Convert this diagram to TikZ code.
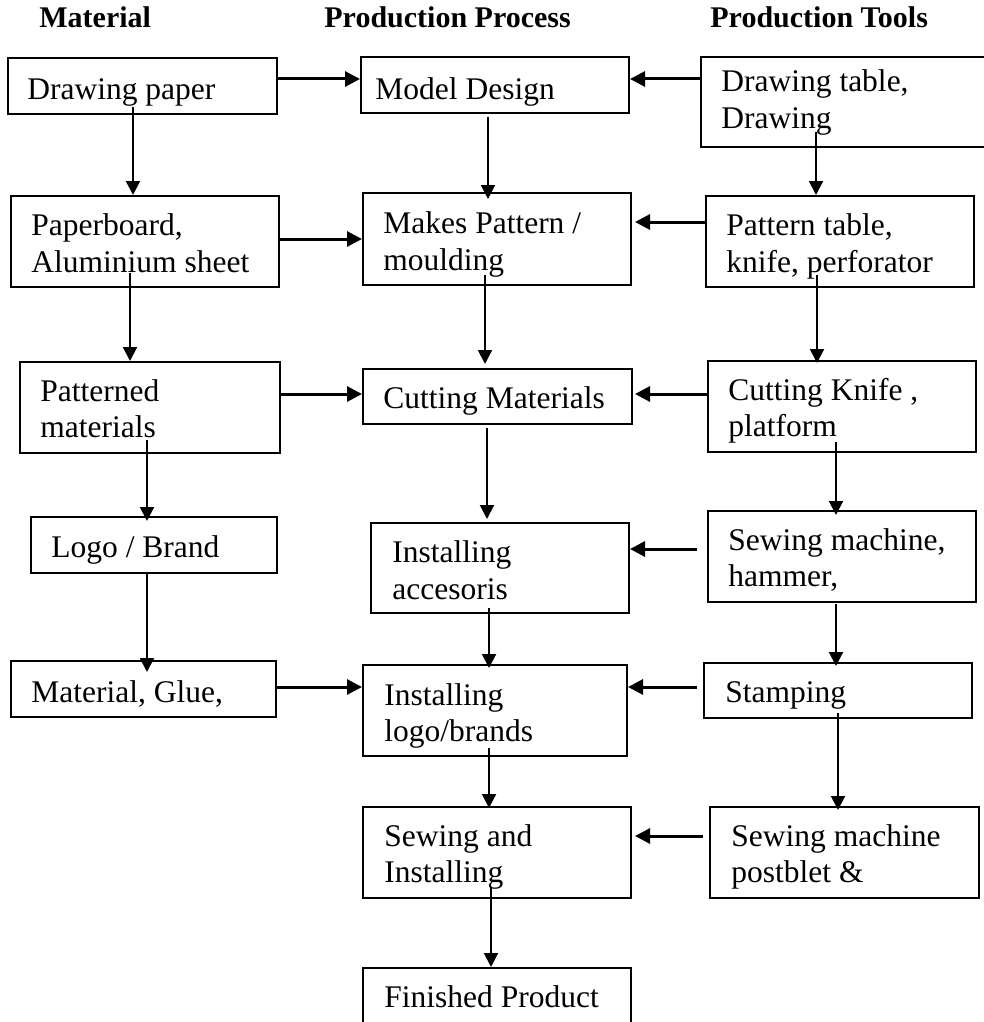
\documentclass[tikz,border=0pt]{standalone}
\usepackage{fontspec}
\setmainfont{Liberation Serif}
\usetikzlibrary{arrows.meta,fit}
\begin{document}
\begin{tikzpicture}[x=0.5pt,y=-0.5pt,
  box/.style={draw, line width=1pt, inner sep=0pt, rectangle},
  txt/.style={anchor=base west, align=left, inner sep=0pt, font=\fontsize{15.75}{18.25}\selectfont},
  hdr/.style={anchor=base west, inner sep=0pt, font=\fontsize{15}{18}\selectfont\bfseries},
  varr/.style={line width=1pt, -{Triangle[length=7pt,width=7pt]}},
  harr/.style={line width=1.5pt, -{Triangle[length=7.5pt,width=7.5pt]}}]
\useasboundingbox (0,0) rectangle (984,1022);
\begin{scope}
\clip (0,0) rectangle (984,1022);
% headers
\node[hdr] (h1) at (39,28) {Material};
\node[hdr] (h2) at (324,28) {Production Process};
\node[hdr] (h3) at (710,28) {Production Tools};
% boxes
\node[box, fit={(8,58) (277,114)}] (A1) {};
\node[box, fit={(361,57) (629,113)}] (B1) {};
\node[box, fit={(701,57) (990,147)}] (C1) {};
\node[box, fit={(11,196) (279,287)}] (A2) {};
\node[box, fit={(363,193) (631,285)}] (B2) {};
\node[box, fit={(706,196) (974,287)}] (C2) {};
\node[box, fit={(20,362) (280,453)}] (A3) {};
\node[box, fit={(363,369) (632,424)}] (B3) {};
\node[box, fit={(708,361) (976,452)}] (C3) {};
\node[box, fit={(31,517) (277,573)}] (A4) {};
\node[box, fit={(371,523) (629,613)}] (B4) {};
\node[box, fit={(708,511) (976,602)}] (C4) {};
\node[box, fit={(11,661) (276,717)}] (A5) {};
\node[box, fit={(363,665) (627,756)}] (B5) {};
\node[box, fit={(704,663) (972,718)}] (C5) {};
\node[box, fit={(363,807) (631,898)}] (B6) {};
\node[box, fit={(710,807) (979,898)}] (C6) {};
\node[box, fit={(363,968) (631,1060)}] (B7) {};
% texts (anchor = baseline of the last line)
\node[txt] (A1t) at (27,99) {Drawing paper};
\node[txt] (B1t) at (375,99) {Model Design};
\node[txt] (C1t) at (721,128.5) {Drawing table,\\Drawing};
\node[txt] (A2t) at (31,272) {Paperboard,\\Aluminium sheet};
\node[txt] (B2t) at (383,270) {Makes Pattern /\\moulding};
\node[txt] (C2t) at (726,272) {Pattern table,\\knife, perforator};
\node[txt] (A3t) at (40,437.5) {Patterned\\materials};
\node[txt] (B3t) at (383,408) {Cutting Materials};
\node[txt] (C3t) at (728,436.5) {Cutting Knife ,\\platform};
\node[txt] (A4t) at (51,557) {Logo / Brand};
\node[txt] (B4t) at (392,599) {Installing\\accesoris};
\node[txt] (C4t) at (728,586.5) {Sewing machine,\\hammer,};
\node[txt] (A5t) at (31,702) {Material, Glue,};
\node[txt] (B5t) at (384,741.5) {Installing\\logo/brands};
\node[txt] (C5t) at (725,702) {Stamping};
\node[txt] (B6t) at (384,882.5) {Sewing and\\Installing};
\node[txt] (C6t) at (731,882.5) {Sewing machine\\postblet \&};
\node[txt] (B7t) at (384,1007) {Finished Product};
% vertical arrow start points
\coordinate (vA1) at (133,107);
\coordinate (vB1) at (488,117);
\coordinate (vC1) at (816,132);
\coordinate (vA2) at (130,273);
\coordinate (vB2) at (485,275);
\coordinate (vC2) at (817,275);
\coordinate (vA3) at (147,440);
\coordinate (vB3) at (487,428);
\coordinate (vC3) at (836,442);
\coordinate (vA4) at (147,573);
\coordinate (vB4) at (489,608);
\coordinate (vC4) at (836,604);
\coordinate (vB5) at (489,748);
\coordinate (vC5) at (838,713);
\coordinate (vB6) at (491,887);
\draw[varr] (vA1) -- (vA1 |- A2.north);
\draw[varr, shorten >=-3.5pt] (vB1) -- (vB1 |- B2.north);
\draw[varr] (vC1) -- (vC1 |- C2.north);
\draw[varr] (vA2) -- (vA2 |- A3.north);
\draw[varr, shorten >=2pt] (vB2) -- (vB2 |- B3.north);
\draw[varr, shorten >=-1.5pt] (vC2) -- (vC2 |- C3.north);
\draw[varr, shorten >=-2.5pt] (vA3) -- (vA3 |- A4.north);
\draw[varr, shorten >=1.5pt] (vB3) -- (vB3 |- B4.north);
\draw[varr, shorten >=-2.5pt] (vC3) -- (vC3 |- C4.north);
\draw[varr, shorten >=-6pt] (vA4) -- (vA4 |- A5.north);
\draw[varr, shorten >=-2pt] (vB4) -- (vB4 |- B5.north);
\draw[varr, shorten >=-2pt] (vC4) -- (vC4 |- C5.north);
\draw[varr, shorten >=-1pt] (vB5) -- (vB5 |- B6.north);
\draw[varr, shorten >=-2pt] (vC5) -- (vC5 |- C6.north);
\draw[varr] (vB6) -- (vB6 |- B7.north);
% horizontal arrow levels
\coordinate (r1) at (0,79);
\coordinate (r2a) at (0,239);
\coordinate (r2c) at (0,222);
\coordinate (r3) at (0,394);
\coordinate (r4) at (0,549);
\coordinate (r5) at (0,687);
\coordinate (r6) at (0,836);
\draw[harr] (A1.east |- r1) -- (B1.west |- r1);
\draw[harr] (C1.west |- r1) -- (B1.east |- r1);
\draw[harr] (A2.east |- r2a) -- (B2.west |- r2a);
\draw[harr, shorten >=1.5pt] (C2.west |- r2c) -- (B2.east |- r2c);
\draw[harr] (A3.east |- r3) -- (B3.west |- r3);
\draw[harr, shorten >=1pt] (C3.west |- r3) -- (B3.east |- r3);
\draw[harr, shorten <=5pt] (C4.west |- r4) -- (B4.east |- r4);
\draw[harr] (A5.east |- r5) -- (B5.west |- r5);
\draw[harr, shorten <=3pt] (C5.west |- r5) -- (B5.east |- r5);
\draw[harr, shorten >=1.5pt, shorten <=3pt] (C6.west |- r6) -- (B6.east |- r6);
\end{scope}
\end{tikzpicture}
\end{document}
